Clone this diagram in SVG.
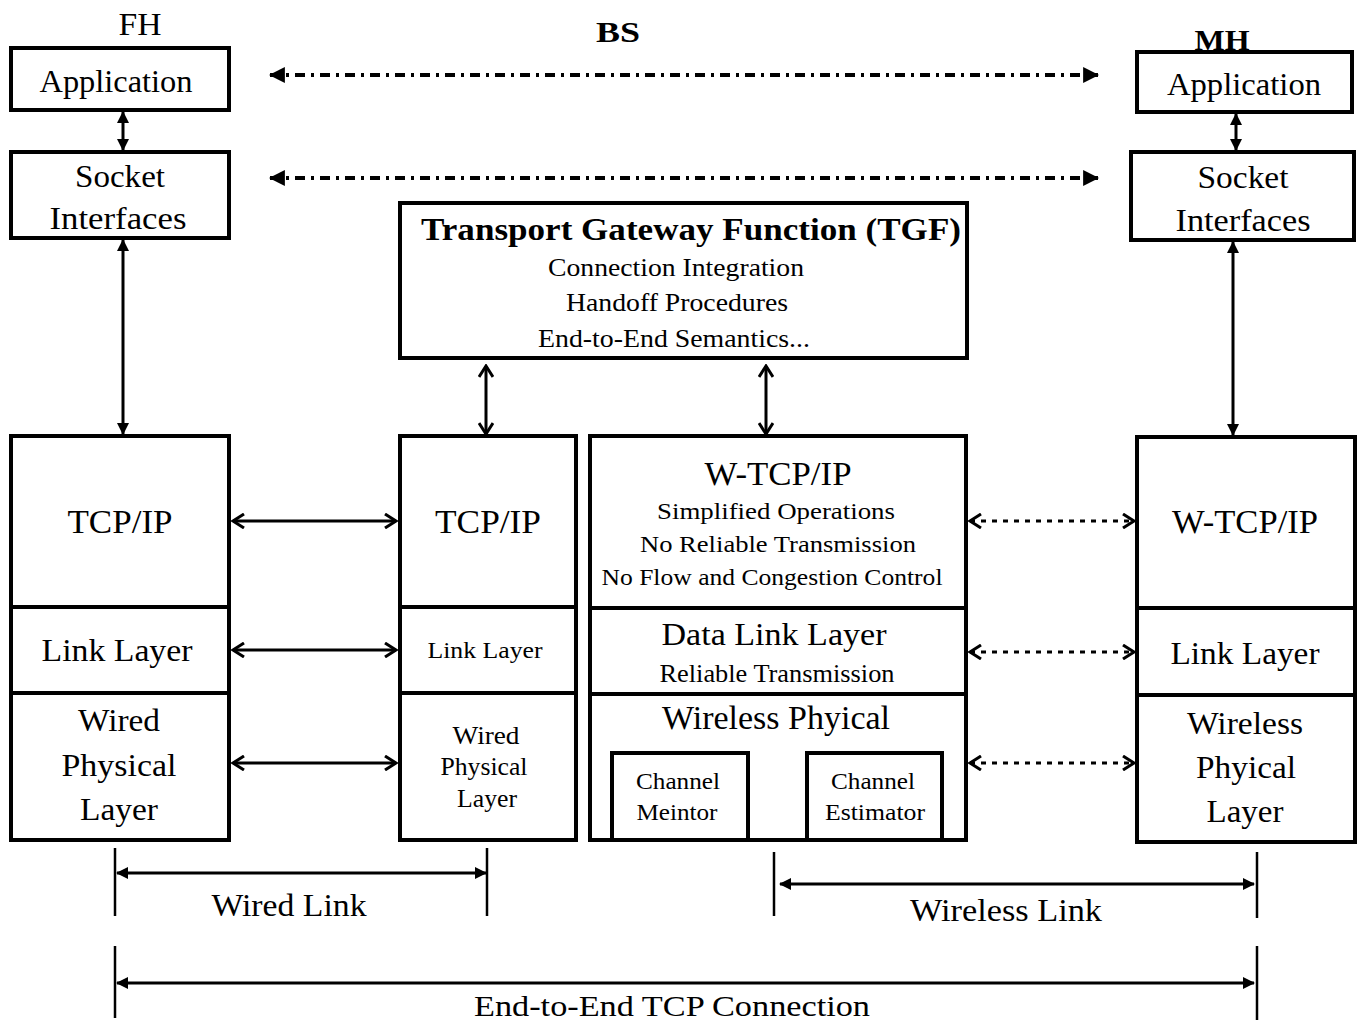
<svg xmlns="http://www.w3.org/2000/svg" width="1357" height="1025" viewBox="0 0 1357 1025">
<style>
.box{fill:#fff;stroke:#000;stroke-width:4}
.div{stroke:#000;stroke-width:4}
.t{font-family:"Liberation Serif","Times New Roman",serif;fill:#000;text-anchor:middle}
.solid{stroke:#000;stroke-width:3;fill:none}
.dashdot{stroke:#000;stroke-width:4;fill:none;stroke-dasharray:10 6 3 6}
.dotted{stroke:#000;stroke-width:3;fill:none;stroke-dasharray:5 6}
.tick{stroke:#000;stroke-width:2.5}
</style>
<defs>
<marker id="fill" viewBox="0 0 14 14" markerUnits="userSpaceOnUse" markerWidth="16" markerHeight="16" refX="13" refY="7" orient="auto-start-reverse"><path d="M0,0 L14,7 L0,14 z" fill="#000"/></marker>
<marker id="open" viewBox="0 0 14 16" markerUnits="userSpaceOnUse" markerWidth="14" markerHeight="16" refX="12" refY="8" orient="auto-start-reverse"><path d="M1,1 L12,8 L1,15" fill="none" stroke="#000" stroke-width="3"/></marker>
<marker id="small" viewBox="0 0 12 12" markerUnits="userSpaceOnUse" markerWidth="12" markerHeight="12" refX="11" refY="6" orient="auto-start-reverse"><path d="M0,0 L12,6 L0,12 z" fill="#000"/></marker>
</defs>

<g id="labels">
<text class="t" x="140" y="35" font-size="31" textLength="43" lengthAdjust="spacingAndGlyphs">FH</text>
<text class="t" x="618" y="42" font-size="30" font-weight="bold" textLength="44" lengthAdjust="spacingAndGlyphs">BS</text>
<text class="t" x="1222" y="50" font-size="30" font-weight="bold" textLength="55" lengthAdjust="spacingAndGlyphs">MH</text>
</g>

<g id="fh-app"><rect class="box" x="11" y="48" width="218" height="62"/><text class="t" x="116" y="92" font-size="32" textLength="153" lengthAdjust="spacingAndGlyphs">Application</text></g>
<g id="fh-socket"><rect class="box" x="11" y="152" width="218" height="86"/><text class="t" x="120" y="187" font-size="32" textLength="90" lengthAdjust="spacingAndGlyphs">Socket</text><text class="t" x="118" y="229" font-size="32" textLength="137" lengthAdjust="spacingAndGlyphs">Interfaces</text></g>
<g id="fh-stack">
<rect class="box" x="11" y="436" width="218" height="404"/>
<line class="div" x1="11" y1="607" x2="229" y2="607"/><line class="div" x1="11" y1="693" x2="229" y2="693"/>
<text class="t" x="120" y="533" font-size="34" textLength="105" lengthAdjust="spacingAndGlyphs">TCP/IP</text>
<text class="t" x="117" y="661" font-size="32" textLength="151" lengthAdjust="spacingAndGlyphs">Link Layer</text>
<text class="t" x="119" y="731" font-size="32" textLength="82" lengthAdjust="spacingAndGlyphs">Wired</text>
<text class="t" x="119" y="776" font-size="32" textLength="115" lengthAdjust="spacingAndGlyphs">Physical</text>
<text class="t" x="119" y="820" font-size="32" textLength="78" lengthAdjust="spacingAndGlyphs">Layer</text>
</g>

<g id="tgf">
<rect class="box" x="400" y="203" width="567" height="155"/>
<text class="t" x="691" y="240" font-size="32" font-weight="bold" textLength="540" lengthAdjust="spacingAndGlyphs">Transport Gateway  Function (TGF)</text>
<text class="t" x="676" y="276" font-size="25" textLength="256" lengthAdjust="spacingAndGlyphs">Connection Integration</text>
<text class="t" x="677" y="311" font-size="25" textLength="222" lengthAdjust="spacingAndGlyphs">Handoff Procedures</text>
<text class="t" x="674" y="347" font-size="25" textLength="272" lengthAdjust="spacingAndGlyphs">End-to-End Semantics...</text>
</g>

<g id="bs-wired">
<rect class="box" x="400" y="436" width="176" height="404"/>
<line class="div" x1="400" y1="607" x2="576" y2="607"/><line class="div" x1="400" y1="693" x2="576" y2="693"/>
<text class="t" x="488" y="533" font-size="34" textLength="106" lengthAdjust="spacingAndGlyphs">TCP/IP</text>
<text class="t" x="485" y="658" font-size="24" textLength="115" lengthAdjust="spacingAndGlyphs">Link Layer</text>
<text class="t" x="486" y="744" font-size="25" textLength="67" lengthAdjust="spacingAndGlyphs">Wired</text>
<text class="t" x="484" y="775" font-size="25" textLength="87" lengthAdjust="spacingAndGlyphs">Physical</text>
<text class="t" x="487" y="807" font-size="25" textLength="60" lengthAdjust="spacingAndGlyphs">Layer</text>
</g>

<g id="bs-wireless">
<rect class="box" x="590" y="436" width="376" height="404"/>
<line class="div" x1="590" y1="608" x2="966" y2="608"/><line class="div" x1="590" y1="694" x2="966" y2="694"/>
<text class="t" x="778" y="485" font-size="33" textLength="147" lengthAdjust="spacingAndGlyphs">W-TCP/IP</text>
<text class="t" x="776" y="519" font-size="24" textLength="238" lengthAdjust="spacingAndGlyphs">Simplified  Operations</text>
<text class="t" x="778" y="552" font-size="24" textLength="276" lengthAdjust="spacingAndGlyphs">No Reliable Transmission</text>
<text class="t" x="772" y="585" font-size="24" textLength="341" lengthAdjust="spacingAndGlyphs">No Flow and Congestion Control</text>
<text class="t" x="774" y="645" font-size="32" textLength="225" lengthAdjust="spacingAndGlyphs">Data Link Layer</text>
<text class="t" x="777" y="682" font-size="25" textLength="235" lengthAdjust="spacingAndGlyphs">Reliable Transmission</text>
<text class="t" x="776" y="729" font-size="33" textLength="228" lengthAdjust="spacingAndGlyphs">Wireless Phyical</text>
</g>
<g id="channel-monitor"><rect class="box" x="612" y="753" width="136" height="87"/><text class="t" x="678" y="789" font-size="24" textLength="84" lengthAdjust="spacingAndGlyphs">Channel</text><text class="t" x="677" y="820" font-size="24" textLength="81" lengthAdjust="spacingAndGlyphs">Meintor</text></g>
<g id="channel-estimator"><rect class="box" x="807" y="753" width="135" height="87"/><text class="t" x="873" y="789" font-size="24" textLength="84" lengthAdjust="spacingAndGlyphs">Channel</text><text class="t" x="875" y="820" font-size="24" textLength="100" lengthAdjust="spacingAndGlyphs">Estimator</text></g>

<g id="mh-app"><rect class="box" x="1137" y="52" width="215" height="60"/><text class="t" x="1244" y="95" font-size="32" textLength="154" lengthAdjust="spacingAndGlyphs">Application</text></g>
<g id="mh-socket"><rect class="box" x="1131" y="152" width="223" height="88"/><text class="t" x="1243" y="188" font-size="32" textLength="91" lengthAdjust="spacingAndGlyphs">Socket</text><text class="t" x="1243" y="231" font-size="32" textLength="135" lengthAdjust="spacingAndGlyphs">Interfaces</text></g>
<g id="mh-stack">
<rect class="box" x="1137" y="437" width="218" height="405"/>
<line class="div" x1="1137" y1="608" x2="1355" y2="608"/><line class="div" x1="1137" y1="695" x2="1355" y2="695"/>
<text class="t" x="1245" y="533" font-size="33" textLength="146" lengthAdjust="spacingAndGlyphs">W-TCP/IP</text>
<text class="t" x="1245" y="664" font-size="32" textLength="149" lengthAdjust="spacingAndGlyphs">Link Layer</text>
<text class="t" x="1245" y="734" font-size="32" textLength="116" lengthAdjust="spacingAndGlyphs">Wireless</text>
<text class="t" x="1246" y="778" font-size="32" textLength="100" lengthAdjust="spacingAndGlyphs">Phyical</text>
<text class="t" x="1245" y="822" font-size="32" textLength="77" lengthAdjust="spacingAndGlyphs">Layer</text>
</g>

<g id="connectors">
<line class="solid" x1="123" y1="112" x2="123" y2="150" marker-start="url(#small)" marker-end="url(#small)" stroke-width="4"/>
<line class="solid" x1="123" y1="240" x2="123" y2="434" marker-start="url(#small)" marker-end="url(#small)"/>
<line class="solid" x1="1236" y1="114" x2="1236" y2="150" marker-start="url(#small)" marker-end="url(#small)" stroke-width="4"/>
<line class="solid" x1="1233" y1="242" x2="1233" y2="435" marker-start="url(#small)" marker-end="url(#small)"/>
<line class="dashdot" x1="270" y1="75" x2="1098" y2="75" marker-start="url(#fill)" marker-end="url(#fill)"/>
<line class="dashdot" x1="270" y1="178" x2="1098" y2="178" marker-start="url(#fill)" marker-end="url(#fill)"/>
<line class="solid" x1="486" y1="366" x2="486" y2="434" marker-start="url(#open)" marker-end="url(#open)"/>
<line class="solid" x1="766" y1="366" x2="766" y2="434" marker-start="url(#open)" marker-end="url(#open)"/>
<line class="solid" x1="233" y1="521" x2="396" y2="521" marker-start="url(#open)" marker-end="url(#open)"/>
<line class="solid" x1="233" y1="650" x2="396" y2="650" marker-start="url(#open)" marker-end="url(#open)" stroke-width="4"/>
<line class="solid" x1="233" y1="763" x2="396" y2="763" marker-start="url(#open)" marker-end="url(#open)"/>
<line class="dotted" x1="970" y1="521" x2="1134" y2="521" marker-start="url(#open)" marker-end="url(#open)"/>
<line class="dotted" x1="970" y1="652" x2="1134" y2="652" marker-start="url(#open)" marker-end="url(#open)"/>
<line class="dotted" x1="970" y1="763" x2="1134" y2="763" marker-start="url(#open)" marker-end="url(#open)"/>
<line class="tick" x1="115" y1="848" x2="115" y2="916"/>
<line class="tick" x1="487" y1="848" x2="487" y2="916"/>
<line class="tick" x1="774" y1="852" x2="774" y2="916"/>
<line class="tick" x1="1257" y1="852" x2="1257" y2="918"/>
<line class="solid" x1="117" y1="873" x2="486" y2="873" marker-start="url(#small)" marker-end="url(#small)" stroke-width="4"/>
<line class="solid" x1="780" y1="884" x2="1254" y2="884" marker-start="url(#small)" marker-end="url(#small)" stroke-width="4"/>
<line class="tick" x1="115" y1="946" x2="115" y2="1018"/>
<line class="tick" x1="1257" y1="946" x2="1257" y2="1020"/>
<line class="solid" x1="117" y1="983" x2="1254" y2="983" marker-start="url(#small)" marker-end="url(#small)" stroke-width="4"/>
</g>

<g id="link-labels">
<text class="t" x="289" y="916" font-size="32" textLength="155" lengthAdjust="spacingAndGlyphs">Wired Link</text>
<text class="t" x="1006" y="921" font-size="32" textLength="192" lengthAdjust="spacingAndGlyphs">Wireless Link</text>
<text class="t" x="672" y="1016" font-size="30" textLength="396" lengthAdjust="spacingAndGlyphs">End-to-End TCP Connection</text>
</g>
</svg>
